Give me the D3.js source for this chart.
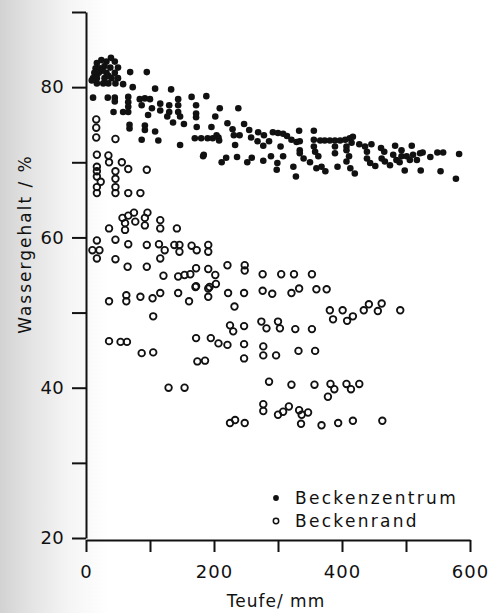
<!DOCTYPE html>
<html>
<head>
<meta charset="utf-8">
<script src="https://cdn.jsdelivr.net/npm/d3@7"></script>
<style>
  html, body { margin: 0; padding: 0; background: #fff; }
  svg { display: block; font-family: "DejaVu Sans", sans-serif; }
</style>
</head>
<body>
<svg id="chart" width="495" height="613"></svg>
<script>
// ---- Data ----
const xTicks = [0, 100, 200, 300, 400, 500, 600];
const xTickLabels = [0, 200, 400, 600];
const yTicks = [20, 30, 40, 50, 60, 70, 80, 90];
const yTickLabels = [20, 40, 60, 80];
const seriesNames = ["Beckenzentrum", "Beckenrand"];
const xTitle = "Teufe/ mm";
const yTitle = "Wassergehalt / %";

// Beckenzentrum (filled): [Teufe mm, Wassergehalt %]
const zentrum = [
  [17,83.2],[32,83.4],[45,83.4],[24,83.6],[39,83.9],
  [15,82.5],[22,82.5],[38,82.6],[50,82.6],[29,82.8],
  [13,81.9],[20,81.9],[32,81.9],[45,81.9],[26,82.2],
  [11,81.2],[17,81.2],[29,81.2],[40,81.2],[50,81.2],[35,81.5],
  [17,80.5],[27,80.5],[35,80.5],[46,80.5],[9,80.9],
  [69,82.0],[95,82.0],[58,80.4],[73,80.0],[108,79.8],[133,79.7],
  [11,78.6],[34,78.6],[45,78.6],[45,78.1],
  [66,78.7],[66,78.0],[66,77.4],[66,76.7],[58,76.7],[43,76.7],
  [68,75.0],[68,74.5],
  [84,78.4],[92,78.5],[100,78.4],[87,77.6],[97,76.3],[103,77.2],
  [116,77.8],[116,76.9],[92,74.9],[92,74.3],[108,74.1],[87,73.0],[113,72.9],
  [130,77.6],[130,76.7],[144,78.4],[144,77.6],[144,76.7],[147,76.1],[127,76.1],[136,75.3],[153,75.1],
  [165,78.7],[172,77.6],[172,76.5],[172,76.0],[188,78.8],[202,76.1],[173,74.7],[196,74.7],
  [170,73.2],[180,73.2],[190,73.2],[198,73.2],[207,73.3],[208,72.9],[204,73.6],[147,72.3],[184,71.0],
  [209,77.2],[238,77.2],[221,75.2],[229,74.4],[247,75.1],[255,74.3],[231,73.6],[240,73.6],[269,74.0],[278,73.6],
  [292,74.0],[300,73.9],[308,73.8],[314,73.5],[321,73.0],[329,72.7],[333,74.2],[356,74.2],
  [233,72.3],[258,73.3],[268,72.8],[277,72.2],[286,72.8],[304,72.1],
  [183,70.8],[212,70.0],[219,70.6],[236,70.7],[252,70.0],[259,70.6],[277,70.2],[289,70.8],[299,69.9],[298,69.0],[308,70.8],[324,69.4],[328,68.1],
  [334,72.8],[334,71.6],[334,71.2],[340,70.5],[350,70.0],[356,73.0],[356,72.1],[358,71.4],[363,70.8],[360,69.2],[368,69.4],[374,68.8],
  [366,72.9],[373,72.9],[381,72.9],[389,72.9],[397,72.9],[405,73.0],[412,73.2],[417,73.4],[415,72.6],[407,72.1],
  [389,72.1],[389,71.2],[407,71.6],[407,70.1],[393,69.4],[413,69.2],[420,68.5],[411,70.8],[427,72.4],
  [436,72.1],[439,71.4],[439,70.5],[444,69.9],[452,69.5],[446,72.4],
  [461,71.9],[466,71.4],[462,70.5],[467,70.1],[475,69.6],[483,72.2],
  [480,71.0],[485,70.3],[493,71.6],[493,70.8],[501,70.8],[506,70.3],[511,71.0],[517,70.3],[522,71.2],[526,71.3],
  [490,70.0],[509,72.2],[498,68.9],[523,68.9],[538,70.7],[549,71.3],[558,71.3],[554,68.8],[583,71.1],[578,67.8]
];

// Beckenrand (open): [Teufe mm, Wassergehalt %]
const rand = [
  [16,75.7],[16,74.6],[16,73.3],[46,73.1],
  [17,71.0],[17,69.4],[17,68.8],[17,68.1],[17,66.7],[17,65.9],[23,67.4],
  [35,70.9],[36,70.0],[56,70.0],[66,69.1],[95,69.0],
  [46,68.8],[46,67.8],[46,66.7],[46,65.9],[66,65.9],[85,65.9],
  [57,62.6],[66,62.9],[75,63.3],[96,63.3],[92,62.6],[61,61.9],[77,62.1],[92,61.6],[61,61.0],[116,62.3],[116,61.2],[142,61.2],[36,61.2],
  [17,59.6],[10,58.3],[21,58.3],[17,57.2],[46,59.7],[66,59.1],[46,57.1],[65,56.1],[95,59.0],[95,56.1],
  [114,59.1],[123,58.3],[116,57.2],[138,59.0],[146,59.0],[146,58.1],[165,58.9],[173,58.3],[191,59.0],[191,58.1],
  [121,54.9],[144,54.8],[154,55.0],[163,55.1],[172,55.9],[191,55.8],[171,53.4],[191,53.2],
  [202,55.0],[221,56.3],[248,56.3],[248,55.6],
  [36,51.5],[63,52.3],[63,51.5],[85,52.1],[104,51.9],[116,52.6],[105,49.5],[144,52.6],[161,51.5],[172,53.5],
  [193,53.4],[203,53.8],[191,52.1],[222,52.6],[232,50.8],[247,52.6],[225,48.3],[230,47.5],[247,48.2],
  [36,46.2],[54,46.1],[64,46.1],[87,44.6],[105,44.7],[172,46.6],[195,46.6],[207,45.9],[221,45.7],[247,45.8],
  [174,43.5],[186,43.6],[247,43.9],[129,40.0],[154,40.0],[225,35.3],[233,35.7],[248,35.3],
  [276,55.1],[305,55.1],[325,55.1],[353,55.1],
  [276,52.9],[291,52.5],[321,52.6],[333,53.2],[360,53.1],[376,53.1],
  [381,50.3],[386,49.1],[401,50.3],[408,48.9],[417,49.5],[434,50.3],[442,51.1],[456,50.2],[462,51.2],[491,50.3],
  [274,48.8],[282,47.9],[300,48.8],[303,47.9],[327,47.8],[353,47.8],
  [277,45.5],[277,44.3],[297,44.3],[332,44.9],[358,44.9],
  [286,40.8],[321,40.4],[357,40.4],[382,40.5],[407,40.5],[427,40.5],[388,39.8],[414,39.8],[378,38.8],
  [277,37.8],[277,36.9],[300,36.4],[308,36.8],[317,37.5],[333,37.0],[337,36.4],[347,36.7],
  [336,35.2],[368,35.0],[394,35.3],[417,35.6],[463,35.6]
];

// ---- Drawing ----
const svg = d3.select("#chart");
const ink = "#111";

// paper background with darker left edge (scan)
const defs = svg.append("defs");
const grad = defs.append("linearGradient").attr("id", "edge").attr("x1", 0).attr("x2", 1).attr("y1", 0).attr("y2", 0);
grad.append("stop").attr("offset", "0%").attr("stop-color", "#d2d2d2");
grad.append("stop").attr("offset", "6%").attr("stop-color", "#e3e3e3");
grad.append("stop").attr("offset", "14%").attr("stop-color", "#f5f5f5");
grad.append("stop").attr("offset", "22%").attr("stop-color", "#ffffff");
grad.append("stop").attr("offset", "100%").attr("stop-color", "#ffffff");
svg.append("rect").attr("width", 495).attr("height", 613).attr("fill", "url(#edge)");

const x = d3.scaleLinear().domain([0, 600]).range([86, 470]);
const y = d3.scaleLinear().domain([20, 90]).range([538, 12]);

// y axis
const yAxis = d3.axisLeft(y)
  .tickValues(yTicks)
  .tickFormat(d => yTickLabels.includes(d) ? String(d) : "")
  .tickSize(14).tickSizeOuter(0).tickPadding(8);
const gy = svg.append("g").attr("transform", `translate(${x(0)},0)`).call(yAxis);
gy.select(".domain").attr("stroke", ink).attr("stroke-width", 2);
gy.selectAll(".tick line").attr("stroke", ink).attr("stroke-width", 2);
gy.selectAll(".tick text").attr("fill", ink).attr("font-size", 18)
  .attr("font-family", "DejaVu Sans").attr("letter-spacing", 0.3);

// x axis
const xAxis = d3.axisBottom(x)
  .tickValues(xTicks)
  .tickFormat(d => xTickLabels.includes(d) ? String(d) : "")
  .tickSize(12).tickSizeOuter(0).tickPadding(13);
const gx = svg.append("g").attr("transform", `translate(0,${y(20) + 2})`).call(xAxis);
gx.select(".domain").attr("stroke", ink).attr("stroke-width", 2);
gx.selectAll(".tick line").attr("stroke", ink).attr("stroke-width", 2);
gx.selectAll(".tick text").attr("fill", ink).attr("font-size", 18)
  .attr("font-family", "DejaVu Sans").attr("letter-spacing", 1);

// axis titles
svg.append("text").attr("x", 276).attr("y", 607).attr("text-anchor", "middle")
  .attr("font-size", 17).attr("letter-spacing", 1).attr("fill", ink).text(xTitle);
svg.append("text").attr("transform", "translate(31,244) rotate(-90)")
  .attr("text-anchor", "middle").attr("font-size", 17).attr("letter-spacing", 2)
  .attr("fill", ink).text(yTitle);

// points
svg.append("g").selectAll("circle").data(rand).join("circle")
  .attr("cx", d => x(d[0])).attr("cy", d => y(d[1])).attr("r", 3.3)
  .attr("fill", "none").attr("stroke", ink).attr("stroke-width", 1.8);
svg.append("g").selectAll("circle").data(zentrum).join("circle")
  .attr("cx", d => x(d[0])).attr("cy", d => y(d[1])).attr("r", 3.3)
  .attr("fill", ink);

// legend
const lg = svg.append("g");
lg.append("circle").attr("cx", 276).attr("cy", 498).attr("r", 2.9).attr("fill", ink);
lg.append("circle").attr("cx", 276).attr("cy", 521).attr("r", 2.7).attr("fill", "none").attr("stroke", ink).attr("stroke-width", 1.5);
lg.append("text").attr("x", 295).attr("y", 504).attr("font-size", 17).attr("letter-spacing", 2.3)
  .attr("fill", ink).text(seriesNames[0]);
lg.append("text").attr("x", 295).attr("y", 527).attr("font-size", 17).attr("letter-spacing", 2.3)
  .attr("fill", ink).text(seriesNames[1]);
</script>
</body>
</html>
